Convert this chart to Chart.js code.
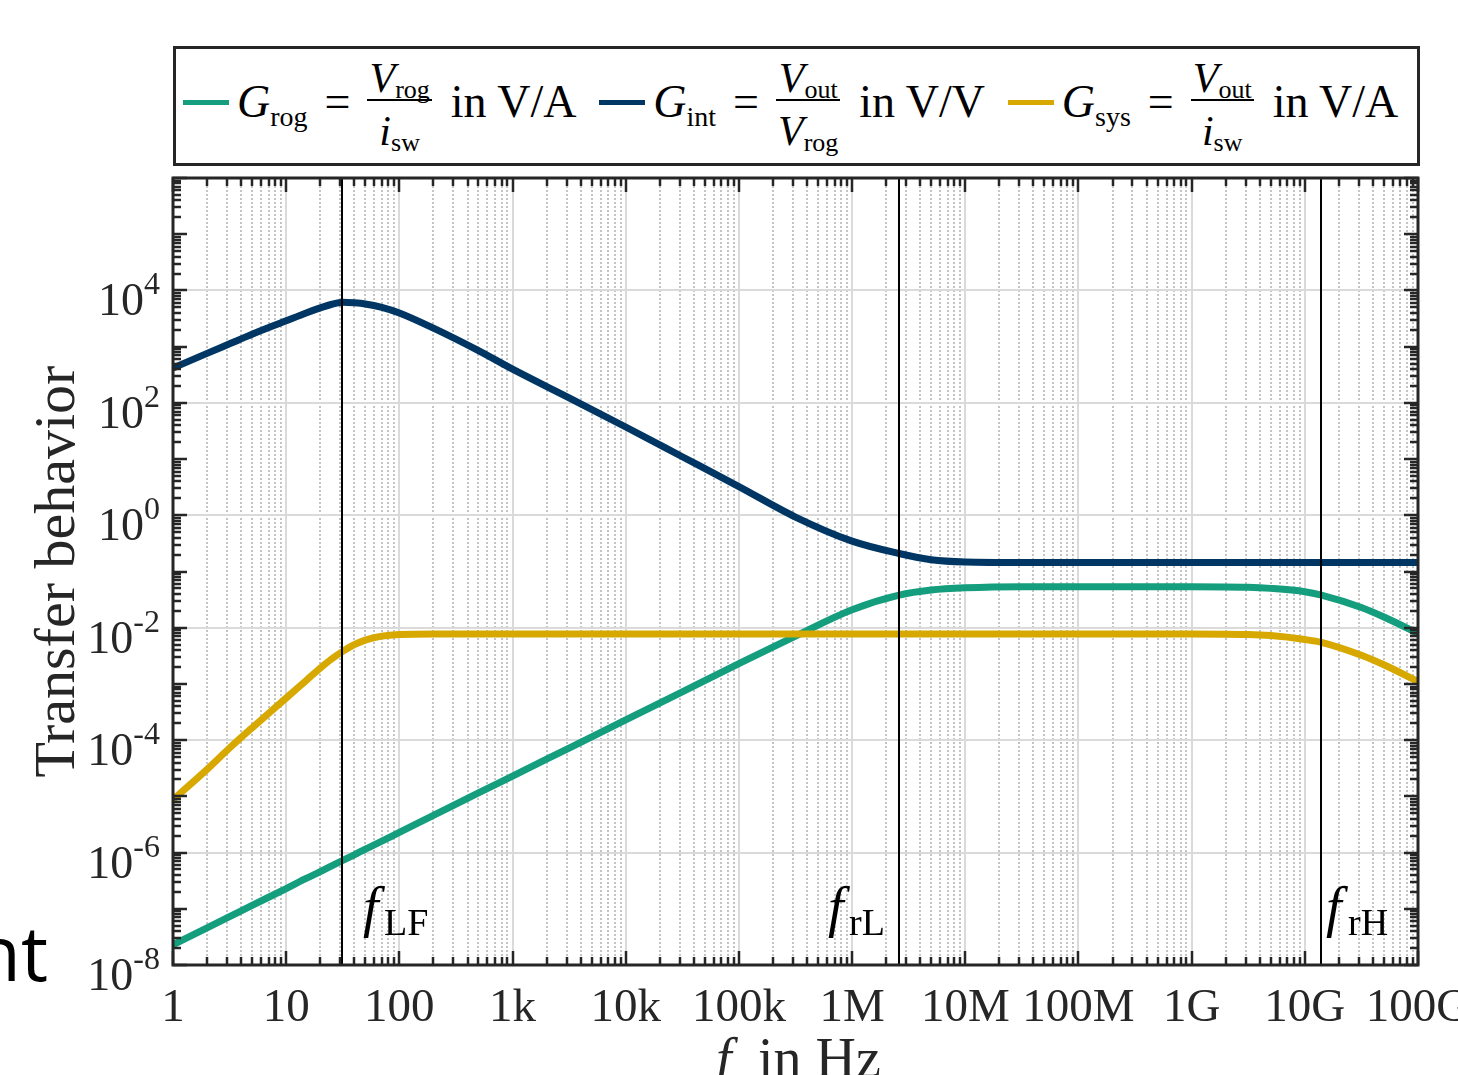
<!DOCTYPE html>
<html>
<head>
<meta charset="utf-8">
<script src="https://cdn.jsdelivr.net/npm/chart.js@4.4.0/dist/chart.umd.min.js"></script>
<style>
  html, body { margin: 0; padding: 0; background: #fff; }
  body { width: 1458px; height: 1075px; position: relative; overflow: hidden; font-family: "Liberation Serif", serif; }
  #chart { position: absolute; left: 0; top: 0; }
  #legendBox { position: absolute; left: 173px; top: 46px; width: 1241px; height: 114px; border: 3px solid #262626; background: #fff; }
  #legendItems { position: absolute; left: 0; top: 0; }
  .t { position: absolute; white-space: nowrap; line-height: 1; color: #000; font-family: "Liberation Serif", serif; }
  .sw { position: absolute; height: 5px; width: 46px; }
  .bar { position: absolute; height: 2px; background: #000; }
  #cut { position: absolute; right: 1410px; top: 914px; font-family: "Open Sans", sans-serif; font-size: 76px; line-height: 1; color: #000; white-space: nowrap; }
</style>
</head>
<body>
<canvas id="chart" width="1458" height="1075"></canvas>
<div id="legendBox"></div>
<div id="legendItems"></div>
<div id="cut">nt</div>
<script>
// frequency points (Hz) and transfer values
const freqHz = [1, 2, 3.16, 5, 10, 15, 20, 25, 31.6, 40, 50, 70, 100, 200, 500, 1e3, 3.16e3, 1e4, 3.16e4,
  1e5, 3.16e5, 1e6, 2.6e6, 5e6, 1e7, 3.16e7, 1e8, 1e9, 3.16e9, 5e9, 1e10, 1.4e10, 3.16e10, 5e10, 1e11];

const gRog = [2.29e-8, 4.57e-8, 7.24e-8, 1.15e-7, 2.29e-7, 3.47e-7, 4.57e-7, 5.75e-7, 7.24e-7, 9.12e-7,
  1.15e-6, 1.60e-6, 2.29e-6, 4.57e-6, 1.15e-5, 2.29e-5, 7.24e-5, 2.29e-4, 7.24e-4, 2.29e-3, 7.08e-3,
  0.0209, 0.038, 0.0468, 0.0513, 0.0537, 0.0537, 0.0537, 0.0525, 0.0501, 0.0437, 0.038, 0.0229, 0.0155, 0.00794];

const gInt = [417, 759, 1122, 1660, 2884, 3981, 4898, 5623, 6166, 6026, 5754, 5012, 3981, 2138, 851, 398,
  123, 37.2, 11.0, 3.24, 0.93, 0.347, 0.209, 0.162, 0.148, 0.145, 0.145, 0.145, 0.145, 0.145, 0.145,
  0.145, 0.145, 0.145, 0.145];

const gSys = [8.71e-6, 3.02e-5, 7.24e-5, 1.66e-4, 5.62e-4, 1.15e-3, 1.91e-3, 2.75e-3, 3.80e-3, 5.01e-3,
  6.03e-3, 7.08e-3, 7.59e-3, 7.76e-3, 7.76e-3, 7.76e-3, 7.76e-3, 7.76e-3, 7.76e-3, 7.76e-3, 7.76e-3,
  7.76e-3, 7.76e-3, 7.76e-3, 7.76e-3, 7.76e-3, 7.76e-3, 7.76e-3, 7.59e-3, 7.24e-3, 6.17e-3, 5.50e-3,
  3.24e-3, 2.19e-3, 1.10e-3];

const xTickValues = [1, 10, 100, 1e3, 1e4, 1e5, 1e6, 1e7, 1e8, 1e9, 1e10, 1e11];
const xTickLabels = ['1', '10', '100', '1k', '10k', '100k', '1M', '10M', '100M', '1G', '10G', '100G'];
const yTickValues = [1e-8, 1e-6, 1e-4, 1e-2, 1, 1e2, 1e4];
const yTickExponents = ['-8', '-6', '-4', '-2', '0', '2', '4'];

const markerFreqs = [31, 2.6e6, 1.4e10];
const markerSubs = ['LF', 'rL', 'rH'];

const colors = { rog: '#149e7e', int: '#003664', sys: '#d7a900' };
const ink = '#262626';

// legend pieces
const legendSubs = ['rog', 'int', 'sys'];
const legendNum = [['V', 'rog'], ['V', 'out'], ['V', 'out']];
const legendDen = [['i', 'sw'], ['V', 'rog'], ['i', 'sw']];
const legendUnits = ['in V/A', 'in V/V', 'in V/A'];
const legendColors = [colors.rog, colors.int, colors.sys];

const serif = '"Liberation Serif", serif';

function pts(values) {
    return freqHz.map((f, i) => ({ x: f, y: values[i] }));
}

const decor = {
    id: 'decor',
    beforeDatasetsDraw(chart) {
        const { ctx, chartArea: a, scales: { x, y } } = chart;
        ctx.save();
        // minor dotted verticals
        ctx.strokeStyle = '#c4c4c4';
        ctx.lineWidth = 2;
        ctx.setLineDash([2, 2]);
        for (let e = 0; e < 11; e++) {
            for (let k = 2; k <= 9; k++) {
                const px = Math.round(x.getPixelForValue(k * Math.pow(10, e)));
                ctx.beginPath();
                ctx.moveTo(px, a.top);
                ctx.lineTo(px, a.bottom);
                ctx.stroke();
            }
        }
        ctx.setLineDash([]);
        // major grid
        ctx.strokeStyle = '#dadada';
        ctx.lineWidth = 2;
        xTickValues.slice(1, -1).forEach((v) => {
            const px = Math.round(x.getPixelForValue(v));
            ctx.beginPath();
            ctx.moveTo(px, a.top);
            ctx.lineTo(px, a.bottom);
            ctx.stroke();
        });
        yTickValues.slice(1).forEach((v) => {
            const py = Math.round(y.getPixelForValue(v));
            ctx.beginPath();
            ctx.moveTo(a.left, py);
            ctx.lineTo(a.right, py);
            ctx.stroke();
        });
        ctx.restore();
    },
    afterDatasetsDraw(chart) {
        const { ctx, chartArea: a, scales: { x, y } } = chart;
        ctx.save();

        // marker lines + labels
        ctx.strokeStyle = '#000';
        ctx.lineWidth = 2;
        ctx.fillStyle = '#000';
        ctx.textBaseline = 'alphabetic';
        ctx.textAlign = 'left';
        const labelOffsets = [[21, 42], [-71, -50], [5, 27]];
        markerFreqs.forEach((f, i) => {
            const px = Math.round(x.getPixelForValue(f));
            ctx.beginPath();
            ctx.moveTo(px, a.top);
            ctx.lineTo(px, a.bottom);
            ctx.stroke();
            ctx.font = 'italic 56px ' + serif;
            ctx.fillText('f', px + labelOffsets[i][0], 926);
            ctx.font = '38px ' + serif;
            ctx.fillText(markerSubs[i], px + labelOffsets[i][1], 935);
        });

        // frame
        ctx.strokeStyle = ink;
        ctx.lineWidth = 3;
        ctx.strokeRect(a.left, a.top, a.right - a.left, a.bottom - a.top);

        // tick marks
        ctx.lineWidth = 2.5;
        const tick = (x1, y1, x2, y2) => {
            ctx.beginPath();
            ctx.moveTo(x1, y1);
            ctx.lineTo(x2, y2);
            ctx.stroke();
        };
        for (let e = 0; e <= 11; e++) {
            for (let k = 1; k <= 9; k++) {
                const v = k * Math.pow(10, e);
                if (v > 1e11) break;
                const px = Math.round(x.getPixelForValue(v));
                const len = k === 1 ? 14 : 8;
                tick(px, a.bottom, px, a.bottom - len);
                tick(px, a.top, px, a.top + len);
            }
        }
        for (let e = -8; e <= 6; e++) {
            for (let k = 1; k <= 9; k++) {
                const v = k * Math.pow(10, e);
                if (v > 1e6) break;
                const py = Math.round(y.getPixelForValue(v));
                const len = k === 1 ? 14 : 8;
                tick(a.left, py, a.left + len, py);
                tick(a.right, py, a.right - len, py);
            }
        }

        // tick labels
        ctx.fillStyle = ink;
        ctx.font = '47px ' + serif;
        ctx.textAlign = 'center';
        xTickValues.forEach((v, i) => {
            ctx.fillText(xTickLabels[i], x.getPixelForValue(v), 1021);
        });
        ctx.textAlign = 'left';
        yTickValues.forEach((v, i) => {
            const py = y.getPixelForValue(v);
            ctx.font = '46px ' + serif;
            const w10 = ctx.measureText('10').width;
            ctx.font = '32px ' + serif;
            const wExp = ctx.measureText(yTickExponents[i]).width;
            const x0 = a.left - 13 - w10 - wExp;
            ctx.font = '46px ' + serif;
            ctx.fillText('10', x0, py + 25);
            ctx.font = '32px ' + serif;
            ctx.fillText(yTickExponents[i], x0 + w10, py + 4);
        });

        // axis titles
        ctx.font = '58px ' + serif;
        ctx.save();
        ctx.translate(74, (a.top + a.bottom) / 2);
        ctx.rotate(-Math.PI / 2);
        ctx.textAlign = 'center';
        ctx.fillText('Transfer behavior', 0, 0);
        ctx.restore();
        ctx.font = 'italic 56px ' + serif;
        ctx.fillText('f', 716, 1077);
        ctx.font = '56px ' + serif;
        ctx.fillText('in Hz', 758, 1077);

        ctx.restore();
    }
};

new Chart(document.getElementById('chart'), {
    type: 'line',
    data: {
        datasets: [
            { label: 'G_rog', data: pts(gRog), borderColor: colors.rog, borderWidth: 7, pointRadius: 0, cubicInterpolationMode: 'monotone', order: 3 },
            { label: 'G_int', data: pts(gInt), borderColor: colors.int, borderWidth: 7, pointRadius: 0, cubicInterpolationMode: 'monotone', order: 2 },
            { label: 'G_sys', data: pts(gSys), borderColor: colors.sys, borderWidth: 7, pointRadius: 0, cubicInterpolationMode: 'monotone', order: 1 },
        ],
    },
    options: {
        responsive: false,
        animation: false,
        devicePixelRatio: 1,
        layout: { padding: { left: 173, top: 178, right: 40, bottom: 110 } },
        plugins: { legend: { display: false }, tooltip: { enabled: false } },
        scales: {
            x: { type: 'logarithmic', min: 1, max: 1e11, display: false },
            y: { type: 'logarithmic', min: 1e-8, max: 1e6, display: false },
        },
    },
    plugins: [decor],
});

// legend with fractions, built as html text
const holder = document.getElementById('legendItems');
const measureCtx = document.createElement('canvas').getContext('2d');
function measure(txt, size, italic) {
    measureCtx.font = (italic ? 'italic ' : '') + size + 'px ' + serif;
    return measureCtx.measureText(txt).width;
}
function put(txt, left, base, size, italic) {
    const s = document.createElement('span');
    s.className = 't';
    s.textContent = txt;
    s.style.fontSize = size + 'px';
    s.style.left = left + 'px';
    s.style.top = (base - 0.8375 * size) + 'px';
    if (italic) s.style.fontStyle = 'italic';
    holder.appendChild(s);
    return measure(txt, size, italic);
}
function putPart(part, left, base) {
    const w = put(part[0], left, base, 42, true);
    put(part[1], left + w, base + 7, 26, false);
}

let cx = 183;
legendSubs.forEach((sub, i) => {
    const sw = document.createElement('div');
    sw.className = 'sw';
    sw.style.left = cx + 'px';
    sw.style.top = '100px';
    sw.style.background = legendColors[i];
    holder.appendChild(sw);
    cx += 54;
    cx += put('G', cx, 118, 46, true);
    cx += put(sub, cx, 126, 28, false) + 17;
    cx += put('=', cx, 118, 46, false) + 17;

    const numW = measure(legendNum[i][0], 42, true) + measure(legendNum[i][1], 26, false);
    const denW = measure(legendDen[i][0], 42, true) + measure(legendDen[i][1], 26, false);
    const fw = Math.max(numW, denW) + 4;
    putPart(legendNum[i], cx + (fw - numW) / 2, 92);
    putPart(legendDen[i], cx + (fw - denW) / 2, 145);
    const bar = document.createElement('div');
    bar.className = 'bar';
    bar.style.left = cx + 'px';
    bar.style.top = '99px';
    bar.style.width = fw + 'px';
    holder.appendChild(bar);
    cx += fw + 19;

    cx += put(legendUnits[i], cx, 118, 46, false) + 22;
});
</script>
</body>
</html>
